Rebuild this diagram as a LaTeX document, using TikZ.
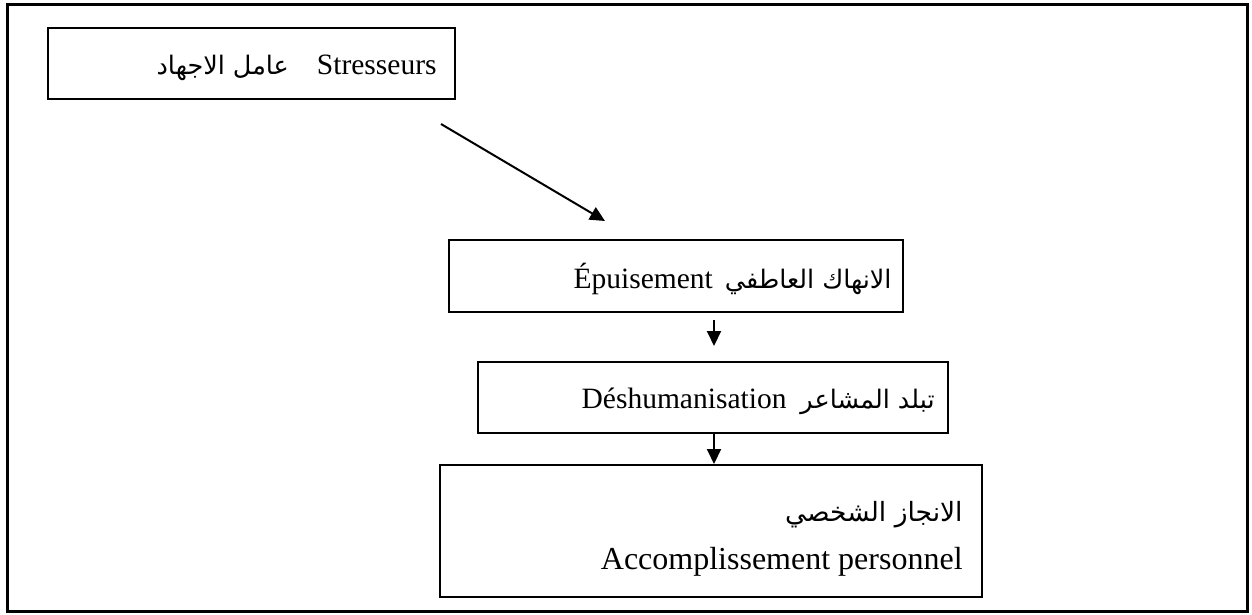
\documentclass[tikz,border=0pt]{standalone}
\usepackage{fontspec}
\setmainfont{Liberation Serif}
\newfontfamily\arabicfont[Script=Arabic]{DejaVu Sans}
\TeXXeTstate=1
\usetikzlibrary{arrows.meta}

% Arabic run, set right to left
\newcommand{\ar}[2][12.75]{{\arabicfont\fontsize{#1}{15}\selectfont\beginR #2\endR}}

\tikzset{
  frame/.style={draw, line width=1.5pt},
  stage/.style={draw, line width=1pt, rectangle, inner sep=0pt},
  caption/.style={inner sep=0pt, anchor=base east, font=\fontsize{14.75}{18}\selectfont},
  flow/.style={line width=1pt, -{Triangle[length=7.5pt, width=7pt]}},
}

\begin{document}
\begin{tikzpicture}[x=0.5pt, y=-0.5pt]
  \useasboundingbox (0,0) rectangle (1252,615);
  \draw[frame] (7.5,4.5) rectangle (1247.5,611.5);

  % the four stages
  \node[stage, minimum width=203.5pt, minimum height=35.5pt] (stress) at (251.5,63.5) {};
  \node[stage, minimum width=227pt, minimum height=36pt] (exhaust) at (676,276) {};
  \node[stage, minimum width=235pt, minimum height=35.5pt] (dehum) at (713,397.75) {};
  \node[stage, minimum width=271pt, minimum height=66pt] (accomp) at (711,531) {};

  % their captions
  \node[caption] (tstress) at (437,75) {\ar{عامل الاجهاد}\hspace{14pt}Stresseurs};
  \node[caption] (texhaust) at (892,288) {Épuisement\hspace{6pt}\ar{الانهاك العاطفي}};
  \node[caption] (tdehum) at (935,408) {Déshumanisation\hspace{7pt}\ar{تبلد المشاعر}};
  \node[caption] (taccar) at (963,521) {\ar[13.25]{الانجاز الشخصي}};
  \node[caption, font=\fontsize{16}{19}\selectfont] (taccfr) at (963,569) {Accomplissement personnel};

  % connectors
  \coordinate (d0) at (441,124);
  \coordinate (d1) at (605,221);
  \coordinate (vx) at (714,0);
  \coordinate (v0) at (714,320);
  \coordinate (v1) at (714,346);
  \draw[flow] (d0) -- (d1);
  \draw[flow] (v0) -- (v1);
  \draw[flow] (dehum.south -| vx) -- (accomp.north -| vx);
\end{tikzpicture}
\end{document}
